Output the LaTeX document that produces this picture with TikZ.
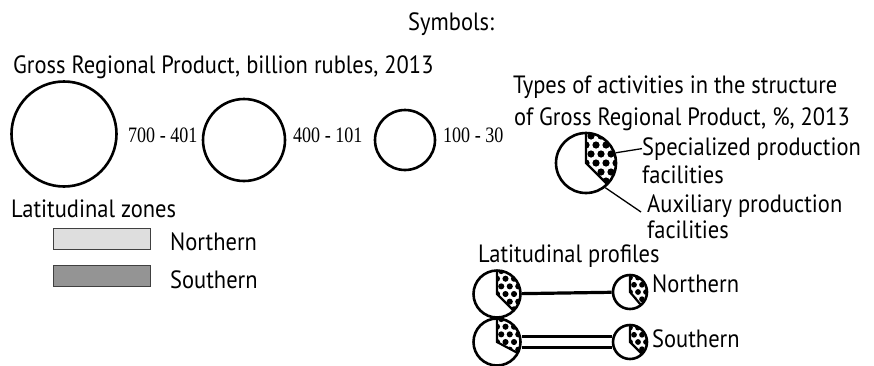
\documentclass[tikz,border=0pt]{standalone}
\usepackage{fontspec}
\setmainfont[FakeStretch=0.9]{PT Sans}
\newfontfamily\numfont[FakeStretch=0.82]{Liberation Serif}
\usetikzlibrary{positioning, calc, backgrounds}

\begin{document}
\begin{tikzpicture}[x=1pt, y=-1pt,
  txt/.style={font=\fontsize{25}{28}\selectfont, inner sep=0pt, anchor=base west},
  rangetxt/.style={font=\numfont\fontsize{22}{24}\selectfont, inner sep=0pt, anchor=base west},
  ring/.style={circle, draw, line width=2.6pt, inner sep=0pt},
  zone/.style={rectangle, draw=black!75, line width=1.6pt, minimum width=97pt, minimum height=21pt, inner sep=0pt},
  leader/.style={line width=1.3pt},
  bar/.style={line width=3.2pt},
]
\useasboundingbox (0,0) rectangle (874,365);

\node[txt] (symbols) at (408,30) {Symbols:};

% gross regional product
\node[txt] (grp) at (13,73) {Gross Regional Product, billion rubles, 2013};
\node[ring, minimum size=105pt] (c1) at (64,134) {};
\node[ring, minimum size=82pt] (c2) at (244,140) {};
\node[ring, minimum size=60pt] (c3) at (405,140) {};
\node[rangetxt] (r1) at (128,142) {700 - 401};
\node[rangetxt] (r2) at (293,142) {400 - 101};
\node[rangetxt] (r3) at (443,142) {100 - 30};

% latitudinal zones
\node[txt] (zones) at (11,217) {Latitudinal zones};
\node[zone, fill=black!13] (zn) at (102,239) {};
\node[zone, fill=black!42] (zs) at (102,276) {};
\node[txt] (zntext) at (170,250) {Northern};
\node[txt] (zstext) at (170,288) {Southern};

% structure legend
\node[txt] (types) at (513,93) {Types of activities in the structure};
\node[txt] (types2) at (514,125) {of Gross Regional Product, \%, 2013};
\node[ring, minimum size=60pt] (pie) at (586,163) {};
\node[txt] (spec) at (642,155) {Specialized production};
\node[txt] (spec2) at (642,183) {facilities};
\node[txt] (aux) at (647,212) {Auxiliary production};
\node[txt] (aux2) at (647,238) {facilities};
\draw[leader] (pie.19) -- (spec.west);
\draw[leader] (pie.-52) -- ([xshift=-6pt]aux.base west);

% latitudinal profiles
\node[txt] (profiles) at (478,262) {Latitudinal profiles};
\node[ring, minimum size=47pt] (nl) at (497,294) {};
\node[ring, minimum size=34pt] (nr) at (630,292) {};
\node[ring, minimum size=47pt] (sl) at (497,342) {};
\node[ring, minimum size=34pt] (sr) at (630,342) {};
\node[txt] (ntext) at (652,292) {Northern};
\node[txt] (stext) at (652,347) {Southern};
\begin{scope}[on background layer]
  \draw[bar] (nl) -- (nr);
  \draw[bar, double, double distance=8pt] (sl) -- (sr);
\end{scope}

% dotted sectors
\foreach \n/\r/\a/\d in {pie/30/-45/10, nl/23/-45/8.5, nr/16/-50/8, sl/23/-28/8.5, sr/16/-45/8} {
  \begin{scope}
    \clip (\n.center) -- ++(90:\r pt) arc[start angle=90, end angle=\a, radius=\r pt] -- cycle;
    \foreach \i in {-3,...,3}
      \foreach \j in {-4,...,4}
        \fill ($(\n.center)+({\i*\d+mod(\j,2)*\d/2},{\j*\d*0.9})$) circle[radius=\d*0.36pt];
  \end{scope}
  \draw[line width=2.2pt] (\n.center) ++(90:\r pt) -- (\n.center) -- ++(\a:\r pt);
}
\end{tikzpicture}
\end{document}
